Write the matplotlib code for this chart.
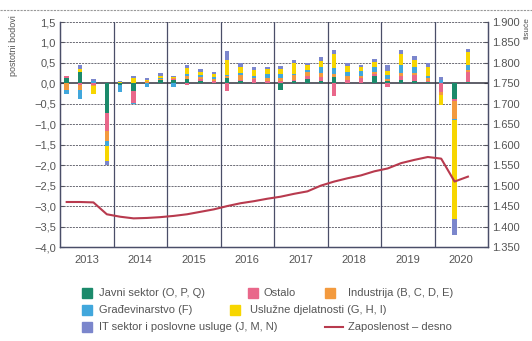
import matplotlib
matplotlib.use("Agg")
import matplotlib.pyplot as plt
import numpy as np
from matplotlib.lines import Line2D
from matplotlib.patches import Rectangle

plt.rcParams['font.family'] = ['Liberation Sans', 'DejaVu Sans']

# Quarters 2013Q1 .. 2020Q3
years = [2013]*4 + [2014]*4 + [2015]*4 + [2016]*4 + [2017]*4 + [2018]*4 + [2019]*4 + [2020]*3
quarters = [1, 2, 3, 4]*7 + [1, 2, 3]

javni = [0.12, 0.28, 0.00, -0.72, -0.05, -0.18, 0.00, 0.08,
         0.08, 0.10, 0.05, 0.02, 0.12, 0.05, 0.02, 0.02,
         -0.15, 0.05, 0.10, 0.05, 0.15, 0.02, 0.02, 0.18,
         0.05, 0.08, 0.06, 0.03, 0.00, -0.38, 0.03]
ostalo = [0.05, -0.05, -0.03, -0.45, 0.00, -0.30, 0.02, 0.00,
          0.02, -0.05, 0.05, 0.05, -0.18, 0.03, 0.08, 0.05,
          0.05, 0.03, 0.08, 0.10, -0.32, 0.06, 0.12, 0.05,
          -0.08, 0.10, 0.15, 0.03, -0.22, -0.05, 0.25]
industrija = [-0.15, -0.12, -0.04, -0.25, 0.00, 0.00, 0.04, 0.03,
              0.03, 0.08, 0.06, 0.04, 0.05, 0.12, 0.04, 0.05,
              0.08, 0.12, 0.10, 0.10, 0.08, 0.10, 0.05, 0.05,
              0.05, 0.07, 0.05, 0.08, -0.06, -0.45, 0.05]
gradevinarstvo = [-0.12, -0.20, 0.05, -0.10, -0.15, -0.02, -0.10, 0.02,
                  -0.10, 0.05, 0.04, 0.04, 0.03, 0.05, 0.04, 0.10,
                  0.10, 0.03, 0.05, 0.15, 0.15, 0.10, 0.12, 0.12,
                  0.10, 0.20, 0.15, 0.05, 0.08, -0.02, 0.12]
usluzne = [0.00, 0.08, -0.20, -0.38, 0.03, 0.12, 0.03, 0.06,
           0.02, 0.15, 0.08, 0.08, 0.38, 0.15, 0.15, 0.12,
           0.12, 0.28, 0.12, 0.15, 0.35, 0.15, 0.10, 0.12,
           0.10, 0.27, 0.15, 0.20, -0.25, -2.42, 0.32]
it_sektor = [0.00, 0.08, 0.06, -0.10, 0.03, 0.05, 0.05, 0.06,
             0.04, 0.07, 0.06, 0.05, 0.22, 0.10, 0.07, 0.06,
             0.07, 0.07, 0.05, 0.10, 0.08, 0.06, 0.05, 0.08,
             0.15, 0.10, 0.10, 0.10, 0.07, -0.38, 0.08]
zaposlenost = [1.460, 1.460, 1.459, 1.430, 1.424, 1.420, 1.421, 1.423,
               1.426, 1.430, 1.436, 1.442, 1.450, 1.457, 1.462, 1.468,
               1.473, 1.480, 1.486, 1.500, 1.510, 1.518, 1.525, 1.535,
               1.542, 1.555, 1.563, 1.570, 1.566, 1.510, 1.522]

year_labels = ['2013', '2014', '2015', '2016', '2017', '2018', '2019', '2020']
series_names = ['Javni sektor (O, P, Q)', 'Ostalo', 'Industrija (B, C, D, E)',
                'Građevinarstvo (F)', 'Uslužne djelatnosti (G, H, I)',
                'IT sektor i poslovne usluge (J, M, N)']
line_name = 'Zaposlenost – desno'
colors = ['#1b8a6b', '#e9678a', '#f39a3e', '#41a7dc', '#f7d600', '#7b86cc']
line_color = '#b83a4e'

series = [javni, ostalo, industrija, gradevinarstvo, usluzne, it_sektor]
x = np.array(years) + (np.array(quarters) - 0.5) / 4.0

fig = plt.figure(figsize=(5.32, 3.41), dpi=100)
ax = fig.add_axes([60/532, 1-247/341, (488-60)/532, (247-22)/341])
ax2 = ax.twinx()

text_c = '#555555'
grid_c = '#555560'

pos_base = np.zeros(len(x))
neg_base = np.zeros(len(x))
for vals, c in zip(series, colors):
    v = np.array(vals)
    pos = np.where(v > 0, v, 0)
    neg = np.where(v < 0, v, 0)
    ax.bar(x, pos, bottom=pos_base, width=0.085, color=c, zorder=3, linewidth=0)
    ax.bar(x, neg, bottom=neg_base, width=0.085, color=c, zorder=3, linewidth=0)
    pos_base += pos
    neg_base += neg

ax.set_xlim(2013, 2021)
ax.set_ylim(-4.0, 1.5)
ax2.set_ylim(1.35, 1.90)

yt = np.arange(-4.0, 1.51, 0.5)
ax.set_yticks(yt)
ax.set_yticklabels([('%.1f' % v).replace('.', ',').replace('-', '\u2212') for v in yt],
                   fontsize=8, color=text_c)
yt2 = np.arange(1.35, 1.901, 0.05)
ax2.set_yticks(yt2)
ax2.set_yticklabels(['%.3f' % v for v in yt2], fontsize=8, color=text_c)

ax.set_xticks(range(2014, 2021))
ax.set_xticklabels([])
ax.set_xticks([int(y) + 0.5 for y in year_labels], minor=True)
ax.set_xticklabels(year_labels, minor=True, fontsize=8, color=text_c)
ax.tick_params(axis='x', which='both', length=0, pad=6)
ax.tick_params(axis='y', direction='in', length=3, color=grid_c, pad=3)
ax2.tick_params(axis='y', direction='in', length=3, color=grid_c, pad=3)

for yv in yt:
    if abs(yv) < 1e-9:
        ax.axhline(0, color='#333340', lw=1.1, zorder=2)
    else:
        ax.axhline(yv, color=grid_c, lw=0.6, ls=(0, (2.5, 1.2)), zorder=1)
for xv in range(2014, 2021):
    ax.axvline(xv, color='#4a4e68', lw=0.9, zorder=1)

for a in (ax, ax2):
    a.spines['top'].set_visible(False)
    for s in ('left', 'right', 'bottom'):
        a.spines[s].set_color('#4a4e68')
        a.spines[s].set_linewidth(0.9)

ax.set_zorder(ax2.get_zorder() + 1)
ax.patch.set_visible(False)
# employment line drawn in right-axis units via the right axis transform
ax.plot(x, zaposlenost, color=line_color, lw=1.5, zorder=4,
        transform=ax2.transData)

fig.text(14/532, 1-15/341, 'postotni bodovi', rotation=90, ha='center', va='top',
         fontsize=6.5, color=text_c)
fig.text(527/532, 1-17/341, 'tisuće', rotation=90, ha='center', va='top',
         fontsize=6, color=text_c)

fig.add_artist(Line2D([0, 1], [1-10/341, 1-10/341], color='#999999', lw=0.8,
                      ls=(0, (2, 1))))

# legend
rows = [
    [(82, 99, 0, 'patch'), (248, 263, 1, 'patch'), (325, 348, 2, 'patch')],
    [(82, 99, 3, 'patch'), (230, 250, 4, 'patch')],
    [(82, 99, 5, 'patch'), (325, 348, None, 'line')],
]
row_y = [293, 310, 327]
for ry, row in zip(row_y, rows):
    for px, tx, idx, kind in row:
        yy = 1 - ry/341
        if kind == 'patch':
            fig.add_artist(Rectangle((px/532, yy - 5/341), 10/532, 10/341,
                                     transform=fig.transFigure, color=colors[idx]))
            label = series_names[idx]
        else:
            fig.add_artist(Line2D([px/532, (px+18)/532], [yy, yy],
                                  color=line_color, lw=1.5))
            label = line_name
        fig.text(tx/532, yy, label, ha='left', va='center', fontsize=8, color=text_c)

fig.savefig('out.png', dpi=100)
